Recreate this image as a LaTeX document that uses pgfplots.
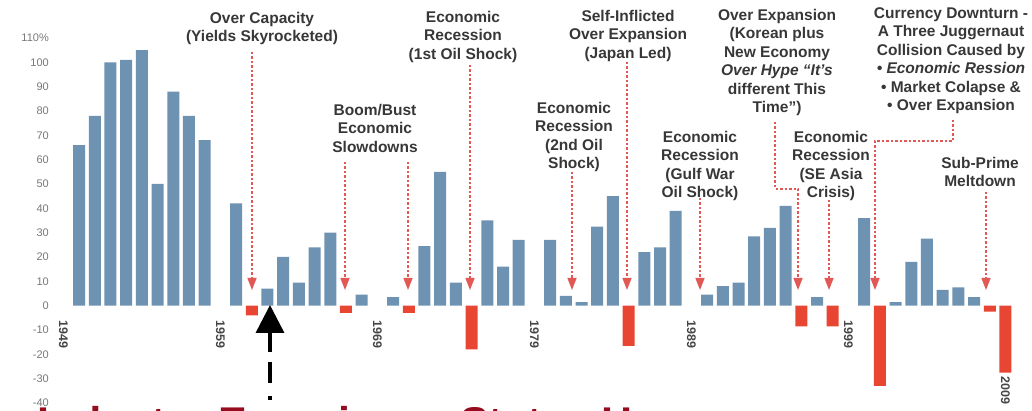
\documentclass[border=0pt]{standalone}
\usepackage{fontspec}
\setmainfont{Liberation Sans}
\usepackage{pgfplots}
\pgfplotsset{compat=1.18}
\usepackage{pgfplotstable}
\usetikzlibrary{arrows.meta}

\definecolor{barblue}{RGB}{110,146,178}
\definecolor{barred}{RGB}{232,70,50}
\definecolor{arrred}{RGB}{226,88,84}
\definecolor{txtgray}{RGB}{55,55,55}
\definecolor{tickgray}{RGB}{120,120,120}
\definecolor{yeargray}{RGB}{70,70,70}
\definecolor{bigred}{RGB}{150,12,30}

% positive years (blue), index 0 = first bar; gaps at 9,19,29,39,49
\pgfplotstableread{
idx val
0 66
1 78
2 100
3 101
4 105
5 50
6 88
7 78
8 68
10 42
12 7
13 20
14 9.5
15 24
16 30
18 4.5
20 3.5
22 24.5
23 55
24 9.5
26 35
27 16
28 27
30 27
31 4
32 1.5
33 32.5
34 45
36 22
37 24
38 39
40 4.5
41 8
42 9.5
43 28.5
44 32
45 41
47 3.5
50 36
52 1.5
53 18
54 27.5
55 6.5
56 7.5
57 3.5
}\posdata

% negative years (red)
\pgfplotstableread{
idx val
11 -4
17 -3
21 -3
25 -18
35 -16.5
46 -8.5
48 -8.5
51 -33
58 -2.5
59 -27.5
}\negdata

\tikzset{
  note/.style={font=\fontsize{15.5}{18.5}\selectfont\bfseries, text=txtgray,
    align=center, anchor=north, inner sep=0pt},
  ptr/.style={arrred, line width=1.4pt, dash pattern=on 2.5pt off 2pt,
    -{Triangle[width=9pt,length=12pt]}},
}

\begin{document}
\begin{tikzpicture}[x=1pt,y=1pt]
\path[use as bounding box] (0,0) rectangle (1032,411);
\begin{axis}[
  at={(55.5pt,8pt)}, anchor=south west,
  scale only axis, width=973.5pt, height=365pt,
  xmin=-1.5, xmax=60.5, ymin=-40, ymax=110,
  axis line style={draw=none},
  major tick length=0pt,
  ytick={-40,-30,-20,-10,0,10,20,30,40,50,60,70,80,90,100,110},
  yticklabels={-40,-30,-20,-10,0,10,20,30,40,50,60,70,80,90,100,110\%},
  yticklabel style={font=\fontsize{11}{12}\selectfont, text=tickgray,
    inner sep=0pt, anchor=east},
  yticklabel shift=6.5pt,
  xtick={-1,9,19,29,39,49},
  xticklabels={1949,1959,1969,1979,1989,1999},
  xticklabel style={font=\fontsize{12.5}{14}\selectfont\bfseries, text=yeargray,
    rotate=-90, anchor=west, inner sep=0pt},
  xticklabel shift=-83pt,
  extra x ticks={59},
  extra x tick labels={2009},
  extra x tick style={xticklabel shift=-27pt},
  clip=false,
]
\addplot[ybar, bar width=12pt, bar shift=0pt, fill=barblue, draw=none]
  table[x=idx, y=val]{\posdata};
\addplot[ybar, bar width=12pt, bar shift=0pt, fill=barred, draw=none]
  table[x=idx, y=val]{\negdata};
\end{axis}

% annotations, in image pixels measured from the top
\begin{scope}[shift={(0,411)}, yscale=-1]
\node[note] at (262,12) {Over Capacity\\(Yields Skyrocketed)};
\node[note] at (375,104) {Boom/Bust\\Economic\\Slowdowns};
\node[note] at (463,11) {Economic\\Recession\\(1st Oil Shock)};
\node[note] at (574,102) {Economic\\Recession\\(2nd Oil\\Shock)};
\node[note] at (628,10) {Self-Inflicted\\Over Expansion\\(Japan Led)};
\node[note] at (700,131) {Economic\\Recession\\(Gulf War\\Oil Shock)};
\node[note] at (777,9) {Over Expansion\\(Korean plus\\New Economy\\\textit{Over Hype “It’s}\\different This\\Time”)};
\node[note] at (831,131) {Economic\\Recession\\(SE Asia\\Crisis)};
\node[note] at (951,7) {Currency Downturn -\\A Three Juggernaut\\Collision Caused by\\\textit{• Economic Ression}\\• Market Colapse \&\\• Over Expansion};
\node[note] at (980,157) {Sub-Prime\\Meltdown};

\draw[ptr] (252,52) -- (252,290);
\draw[ptr] (345,162) -- (345,290);
\draw[ptr] (408,162) -- (408,290);
\draw[ptr] (470,65) -- (470,290);
\draw[ptr] (572,172) -- (572,290);
\draw[ptr] (627,62) -- (627,290);
\draw[ptr] (700,198) -- (700,290);
\draw[ptr] (775,122) -- (775,189) -- (798,189) -- (798,290);
\draw[ptr] (829,200) -- (829,290);
\draw[ptr] (953,120) -- (953,141) -- (875,141) -- (875,290);
\draw[ptr] (986,192) -- (986,290);

\draw[black, line width=3.5pt, dash pattern=on 4pt off 13pt on 21pt off 10pt on 100pt,
  -{Triangle[width=28pt,length=28pt]}] (270,400) -- (270,305);

\node[anchor=base west, inner sep=0pt, font=\fontsize{43}{50}\selectfont\bfseries,
  text=bigred] at (37,438) {Industry Experience States Have};
\end{scope}
\end{tikzpicture}
\end{document}
